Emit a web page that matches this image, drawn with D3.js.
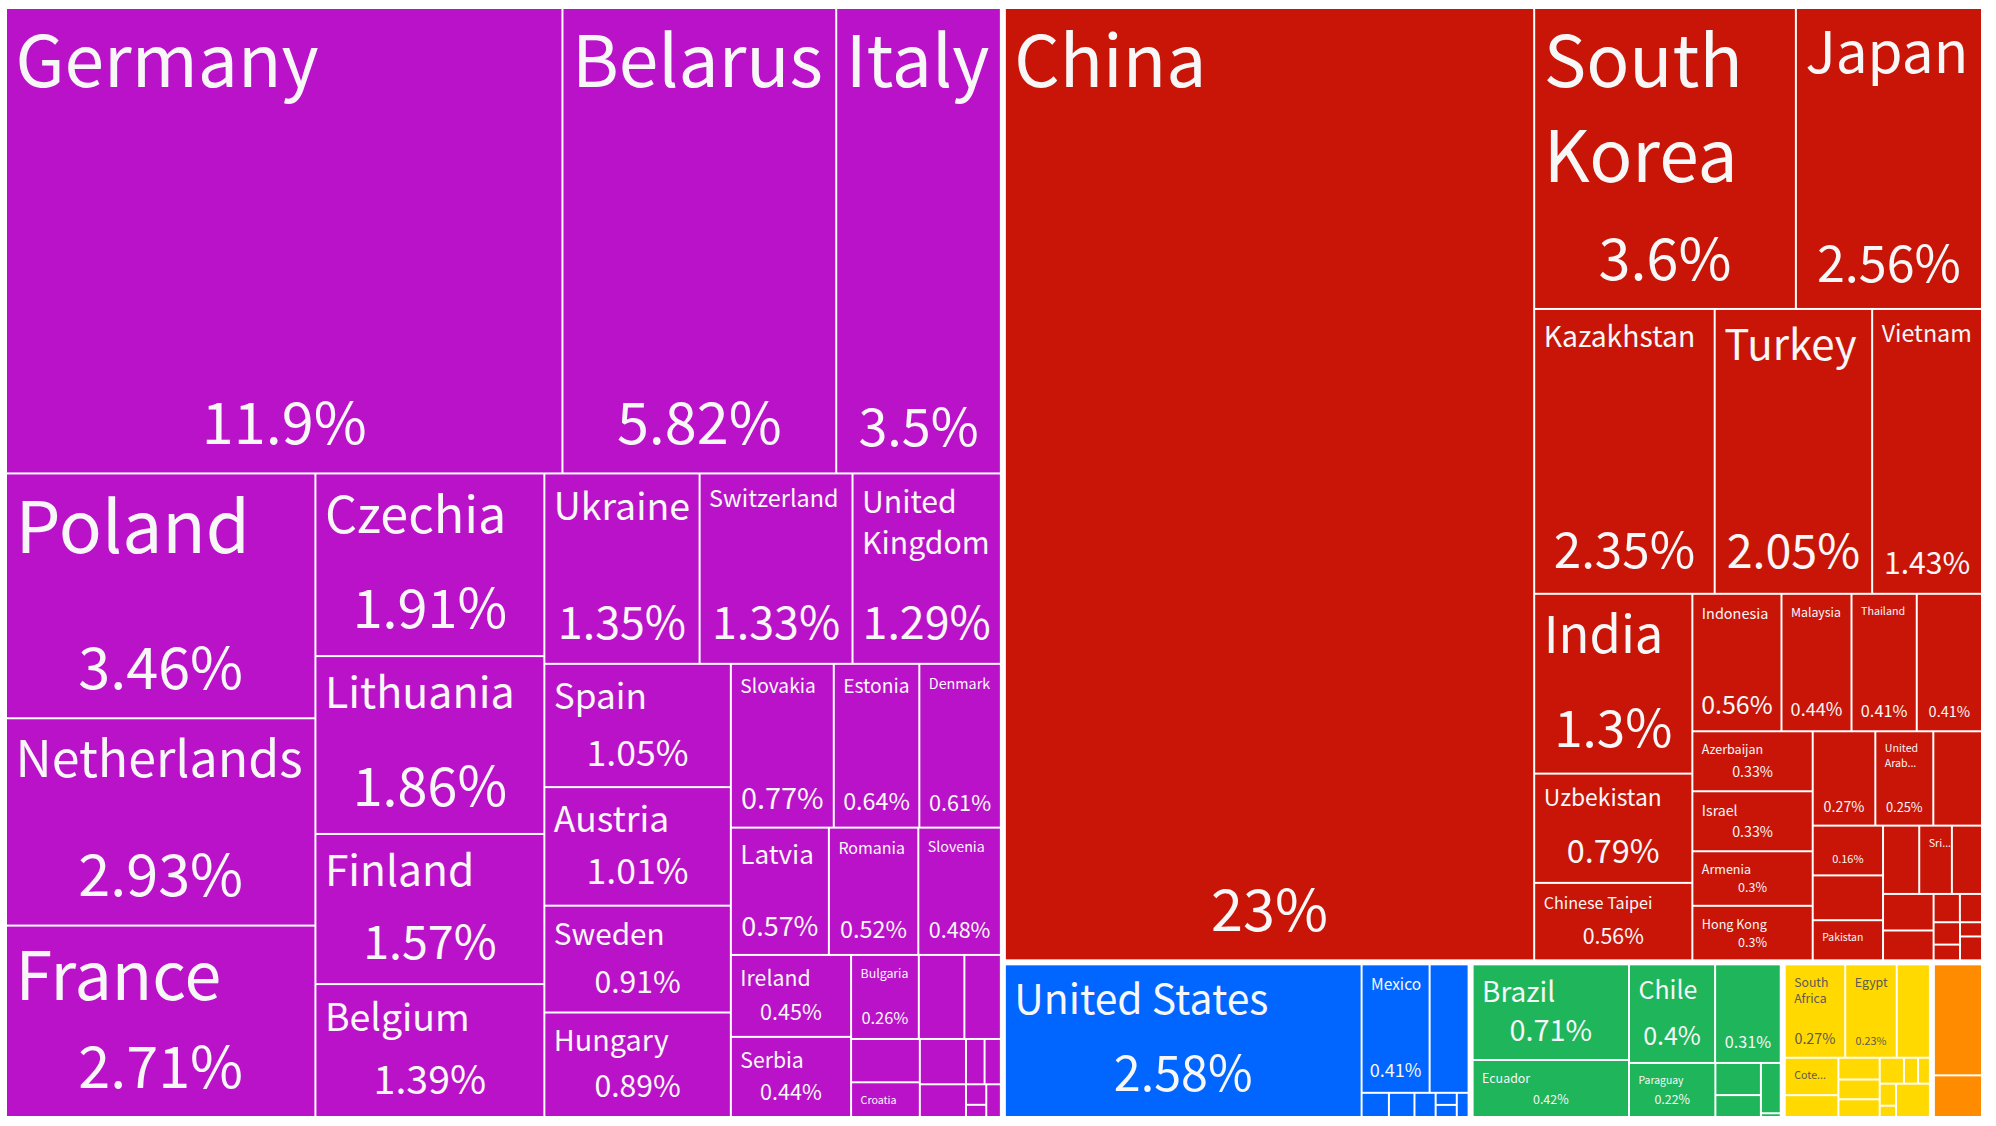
<!DOCTYPE html>
<html>
<head>
<meta charset="utf-8">
<script src="https://cdn.jsdelivr.net/npm/d3@7"></script>
<style>
html,body{margin:0;padding:0;background:#fff}
svg{display:block}
text{font-family:"Noto Sans CJK SC","Noto Sans",sans-serif;font-weight:400}
</style>
</head>
<body>
<svg id="chart" width="1996" height="1126"></svg>
<script>
// ---- data: names ("" = no name shown), shares (%), shown share labels ("" = none), in layout order
const continents = ["Europe","Asia","North America","South America","Africa","Oceania"];

const europeNames = ["Germany","Belarus","Italy","Poland","Netherlands","France","Czechia","Lithuania","Finland","Belgium","Ukraine","Switzerland","United\nKingdom","Spain","Austria","Sweden","Hungary","Slovakia","Estonia","Denmark","Latvia","Romania","Slovenia","Ireland","Serbia","Bulgaria","","","","Croatia","","","","","","",""];
const europeShares = [11.83,5.82,3.5,3.46,2.93,2.705,1.91,1.86,1.57,1.39,1.35,1.33,1.29,1.05,1.01,0.91,0.89,0.77,0.64,0.61,0.57,0.52,0.48,0.45,0.44,0.26,0.175,0.14,0.136,0.109,0.0955,0.069,0.0385,0.0337,0.019,0.0113,0.0218];
const europeLabels = ["11.9%","5.82%","3.5%","3.46%","2.93%","2.71%","1.91%","1.86%","1.57%","1.39%","1.35%","1.33%","1.29%","1.05%","1.01%","0.91%","0.89%","0.77%","0.64%","0.61%","0.57%","0.52%","0.48%","0.45%","0.44%","0.26%","","","","","","","","","","",""];

const asiaNames = ["China","South\nKorea","Japan","Kazakhstan","Turkey","Vietnam","India","Uzbekistan","Chinese Taipei","Indonesia","Malaysia","Thailand","","Azerbaijan","Israel","Armenia","Hong Kong","","United\nArab...","","","","Pakistan","","Sri...","","","","","","","","",""];
const asiaShares = [23.04,3.6,2.56,2.35,2.05,1.43,1.3,0.79,0.56,0.56,0.44,0.41,0.41,0.33,0.33,0.3,0.3,0.27,0.25,0.21,0.16,0.144,0.129,0.113,0.102,0.094,0.0845,0.069,0.034,0.0286,0.027,0.019,0.0143,0.024];
const asiaLabels = ["23%","3.6%","2.56%","2.35%","2.05%","1.43%","1.3%","0.79%","0.56%","0.56%","0.44%","0.41%","0.41%","0.33%","0.33%","0.3%","0.3%","0.27%","0.25%","","0.16%","","","","","","","","","","","","",""];

const northAmericaNames = ["United States","Mexico","","","","","","",""];
const northAmericaShares = [2.555,0.41,0.235,0.031,0.029,0.024,0.012,0.012,0.0134];
const northAmericaLabels = ["2.58%","0.41%","","","","","","",""];

const southAmericaNames = ["Brazil","Ecuador","Chile","","Paraguay","","","",""];
const southAmericaShares = [0.705,0.42,0.4,0.305,0.22,0.069,0.047,0.047,0.0035];
const southAmericaLabels = ["0.71%","0.42%","0.4%","0.31%","0.22%","","","",""];

const africaNames = ["South\nAfrica","Egypt","","Cote...","","","","","","","","","",""];
const africaShares = [0.27,0.23,0.148,0.096,0.056,0.043,0.039,0.035,0.03,0.0175,0.0147,0.0172,0.0088,0.054];
const africaLabels = ["0.27%","0.23%","","","","","","","","","","","",""];

const oceaniaNames = ["",""];
const oceaniaShares = [0.269,0.101];
const oceaniaLabels = ["",""];

// ---- style: colours and font sizes per cell, same order as data; 0 = no text
const groupColors = ["#BA12C8","#C81508","#0066FF","#1FB55A","#FFD900","#FF8C00"];
const groupTextColors = ["#F7F7F7","#F7F7F7","#F7F7F7","#F7F7F7","#5C5A55","#F7F7F7"];
const FONT_SCALE = 0.914;

const europeNameSizes = [78,78,78,78,54.8,72.5,55,47,46.5,41,41,25.6,33,38.5,38.8,32.5,31.5,21,21,15.7,28.5,17.5,15.6,23.3,23.2,13.5,0,0,0,11.7,0,0,0,0,0,0,0];
const europeValueSizes = [63,63,57,63,63,63,59,59,51,43,49,49,49,39,39,33,33,31.6,25.5,23.7,29.5,25.6,23.6,23.6,23.6,18,0,0,0,0,0,0,0,0,0,0,0];
const asiaNameSizes = [78,78,62,31,46,25.5,55.5,25,17.7,15.8,13.5,11.7,0,13.7,15.5,13.7,13.8,0,11.6,0,0,0,11.4,0,11.7,0,0,0,0,0,0,0,0,0];
const asiaValueSizes = [63,63,55,54,51,33,56,35.5,23.4,27.3,19.8,17.8,15.9,15.6,15.6,13.7,13.7,15.6,14,0,12,0,0,0,0,0,0,0,0,0,0,0,0,0];
const northAmericaNameSizes = [44.7,17,0,0,0,0,0,0,0];
const northAmericaValueSizes = [53,19.8,0,0,0,0,0,0,0];
const southAmericaNameSizes = [30.6,13.6,27.3,0,11.4,0,0,0,0];
const southAmericaValueSizes = [31.6,13.6,27.4,17.7,13.6,0,0,0,0];
const africaNameSizes = [13.4,13.5,0,11.7,0,0,0,0,0,0,0,0,0,0];
const africaValueSizes = [15.7,11.8,0,0,0,0,0,0,0,0,0,0,0,0];
const oceaniaNameSizes = [0,0];
const oceaniaValueSizes = [0,0];

const namesBy = [europeNames,asiaNames,northAmericaNames,southAmericaNames,africaNames,oceaniaNames];
const sharesBy = [europeShares,asiaShares,northAmericaShares,southAmericaShares,africaShares,oceaniaShares];
const labelsBy = [europeLabels,asiaLabels,northAmericaLabels,southAmericaLabels,africaLabels,oceaniaLabels];
const nameSizesBy = [europeNameSizes,asiaNameSizes,northAmericaNameSizes,southAmericaNameSizes,africaNameSizes,oceaniaNameSizes];
const valueSizesBy = [europeValueSizes,asiaValueSizes,northAmericaValueSizes,southAmericaValueSizes,africaValueSizes,oceaniaValueSizes];

const tree = {name:"root",children:continents.map((c,g)=>({
  name:c,g,
  children:sharesBy[g].map((v,i)=>({name:namesBy[g][i],value:v,label:labelsBy[g][i],g,i}))
}))};

const W = 1974, H = 1107, X0 = 7, Y0 = 9;
const root = d3.hierarchy(tree).sum(d=>d.value||0);
d3.treemap()
  .tile(d3.treemapSquarify)
  .size([W,H])
  .paddingInner(n=>n.depth===0?6:2)
  .round(false)(root);

const svg = d3.select("#chart");
const plot = svg.append("g").attr("transform",`translate(${X0},${Y0})`);
const cells = plot.selectAll("g.cell").data(root.leaves()).join("g").attr("class","cell");

cells.append("rect")
  .attr("x",d=>d.x0).attr("y",d=>d.y0)
  .attr("width",d=>d.x1-d.x0).attr("height",d=>d.y1-d.y0)
  .attr("fill",d=>groupColors[d.data.g]);

cells.each(function(d){
  const g = d3.select(this), color = groupTextColors[d.data.g];
  const ns = nameSizesBy[d.data.g][d.data.i], vs = valueSizesBy[d.data.g][d.data.i];
  if(d.data.name && ns){
    d.data.name.split("\n").forEach((line,k)=>{
      g.append("text").attr("x",d.x0+8.5)
       .attr("y",d.y0+10+0.875*ns+k*1.22*ns)
       .attr("font-size",ns*FONT_SCALE).attr("fill",color).text(line);
    });
  }
  if(d.data.label && vs){
    g.append("text").attr("x",(d.x0+d.x1)/2)
     .attr("y",d.y1-8-0.32*vs)
     .attr("text-anchor","middle")
     .attr("font-size",vs*FONT_SCALE).attr("fill",color).text(d.data.label);
  }
});
</script>
</body>
</html>
